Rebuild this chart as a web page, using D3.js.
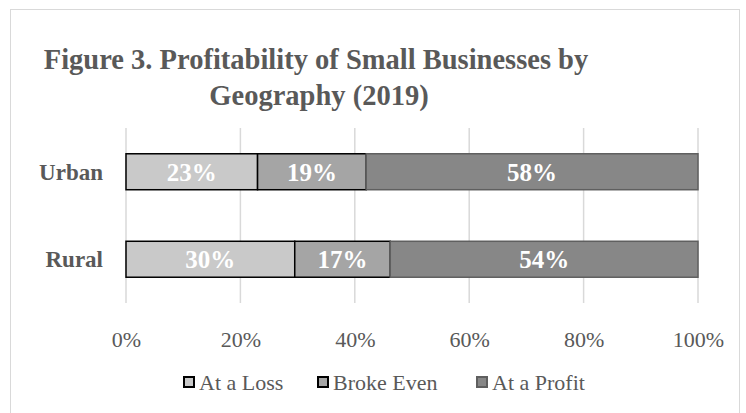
<!DOCTYPE html>
<html>
<head>
<meta charset="utf-8">
<script src="https://cdn.jsdelivr.net/npm/d3@7"></script>
<style>
  body { margin: 0; background: #fff; }
  svg text { font-family: "Liberation Serif", "Times New Roman", serif; }
</style>
</head>
<body>
<div id="chart"></div>
<script>
// data
const regions = ["Urban", "Rural"];
const seriesNames = ["At a Loss", "Broke Even", "At a Profit"];
const atALoss = [23, 29.5];
const brokeEven = [19, 16.7];
const atAProfit = [58, 53.8];
const xTicks = [0, 20, 40, 60, 80, 100];

const fills = ["#c9c9c9", "#a5a5a5", "#878787"];
const strokes = ["#000000", "#000000", "#5f5f5f"];

const width = 746, height = 413;
const margin = { top: 128, right: 48, bottom: 110, left: 126 };
const innerW = width - margin.left - margin.right;
const innerH = height - margin.top - margin.bottom;

const svg = d3.select("#chart").append("svg")
  .attr("width", width)
  .attr("height", height);

// outer border
svg.append("rect")
  .attr("x", 10.5).attr("y", 9.5)
  .attr("width", 729).attr("height", 420)
  .attr("fill", "none")
  .attr("stroke", "#d9d9d9");

// title
const title = svg.append("text")
  .attr("text-anchor", "middle")
  .attr("fill", "#595959")
  .style("font-weight", "bold")
  .style("font-size", "28.5px");
title.append("tspan").attr("x", 316).attr("y", 69).text("Figure 3. Profitability of Small Businesses by");
title.append("tspan").attr("x", 319).attr("y", 105).text("Geography (2019)");

const g = svg.append("g")
  .attr("transform", `translate(${margin.left},${margin.top})`);

const x = d3.scaleLinear().domain([0, 100]).range([0, innerW]);
const y = d3.scaleBand().domain(regions).range([0, innerH])
  .paddingInner(0.589).paddingOuter(0.2945);

// gridlines
g.selectAll(".grid")
  .data(xTicks)
  .enter().append("line")
  .attr("class", "grid")
  .attr("x1", d => x(d)).attr("x2", d => x(d))
  .attr("y1", 0).attr("y2", innerH)
  .attr("stroke", "#d9d9d9")
  .attr("stroke-width", 1.5);

// x axis labels
const xAxis = d3.axisBottom(x).tickValues(xTicks).tickFormat(d => d + "%").tickSize(0).tickPadding(28);
const xg = g.append("g").attr("transform", `translate(0,${innerH})`).call(xAxis);
xg.select(".domain").remove();
xg.selectAll("text")
  .attr("fill", "#595959")
  .style("font-size", "22px");

// category labels
const yAxis = d3.axisLeft(y).tickSize(0).tickPadding(23);
const yg = g.append("g").call(yAxis);
yg.select(".domain").remove();
yg.selectAll("text")
  .attr("fill", "#595959")
  .attr("dy", "0.35em")
  .style("font-size", "23px")
  .style("font-weight", "bold");

// stacked data
const rows = regions.map((r, i) => ({
  region: r,
  "At a Loss": atALoss[i],
  "Broke Even": brokeEven[i],
  "At a Profit": atAProfit[i]
}));
const stacked = d3.stack().keys(seriesNames)(rows);

const layers = g.selectAll(".layer")
  .data(stacked)
  .enter().append("g")
  .attr("class", "layer");

layers.selectAll("rect")
  .data((d, i) => d.map(p => ({ p, i })))
  .enter().append("rect")
  .attr("x", d => x(d.p[0]))
  .attr("y", d => y(d.p.data.region))
  .attr("width", d => x(d.p[1]) - x(d.p[0]))
  .attr("height", y.bandwidth())
  .attr("fill", d => fills[d.i])
  .attr("stroke", d => strokes[d.i])
  .attr("stroke-width", 1.5);

layers.selectAll("text")
  .data((d, i) => d.map(p => ({ p, i })))
  .enter().append("text")
  .attr("x", d => (x(d.p[0]) + x(d.p[1])) / 2)
  .attr("y", d => y(d.p.data.region) + y.bandwidth() / 2)
  .attr("dy", "0.35em")
  .attr("text-anchor", "middle")
  .attr("fill", "#ffffff")
  .style("font-size", "25px")
  .style("font-weight", "bold")
  .text(d => Math.round(d.p[1] - d.p[0]) + "%");

// legend
const legendX = [183, 317, 476];
const legend = svg.selectAll(".legend-item")
  .data(seriesNames)
  .enter().append("g")
  .attr("class", "legend-item")
  .attr("transform", (d, i) => `translate(${legendX[i]}, 382)`);

legend.append("rect")
  .attr("x", 1).attr("y", -5)
  .attr("width", 10).attr("height", 10)
  .attr("fill", (d, i) => fills[i])
  .attr("stroke", (d, i) => strokes[i])
  .attr("stroke-width", 2);

legend.append("text")
  .attr("x", 16)
  .attr("dy", "0.35em")
  .attr("fill", "#595959")
  .style("font-size", "22px")
  .text(d => d);
</script>
</body>
</html>
